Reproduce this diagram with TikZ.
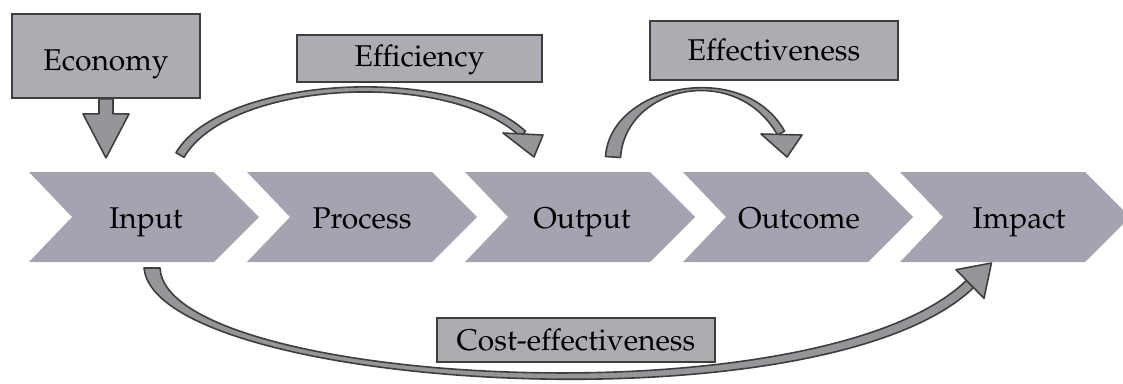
\documentclass[tikz,border=0pt]{standalone}
\usepackage[T1]{fontenc}
\usepackage{mathpazo}
\usetikzlibrary{calc}
\definecolor{chevgray}{RGB}{164,164,176}
\definecolor{boxgray}{RGB}{172,172,178}
\definecolor{arrowgray}{RGB}{150,150,154}
\definecolor{edgegray}{RGB}{62,62,62}
\begin{document}
\begin{tikzpicture}[x=1pt,y=-1pt,
  lbl/.style={font=\fontsize{30}{36}\selectfont, inner sep=0pt, text=black},
  tagbox/.style={draw=edgegray, line width=1.8pt, fill=boxgray, inner sep=0pt,
    font=\fontsize{30}{36}\selectfont},
  blockarrow/.style={fill=arrowgray, draw=edgegray, line width=1.6pt, line join=round}]
\useasboundingbox (0,0) rectangle (1123,383);
\clip (0,0) rectangle (1123,383);

% value chain: five chevrons
\newcommand\chevshape[1]{%
  \fill[chevgray] (#1,172) -- ++(185,0) -- ++(45,45) -- ++(-45,45) -- ++(-185,0) -- ++(43,-45) -- cycle;}
\chevshape{29}
\chevshape{247}
\chevshape{465}
\chevshape{683}
\chevshape{900}
\node[lbl, anchor=base] (inp)  at (146,228) {Input};
\node[lbl, anchor=base] (proc) at (362,228) {Process};
\node[lbl, anchor=base] (outp) at (582,228) {Output};
\node[lbl, anchor=base] (outc) at (799,228) {Outcome};
\node[lbl, anchor=base] (imp)  at (1019,228) {Impact};

% Economy: box with a block arrow down onto Input
\node[tagbox, minimum width=188pt, minimum height=84pt] (eco) at (106,56) {};
\path[blockarrow] ($(eco.south)+(-7,0)$) -- ++(0,15) -- ++(-16,0) -- ++(23,44)
   -- ++(23,-44) -- ++(-16,0) -- ($(eco.south)+(7,0)$) -- cycle;
\node[tagbox, minimum width=188pt, minimum height=84pt] at (eco) {};
\node[lbl, anchor=base] at (106,70) {Economy};

% Efficiency: Input -> Output
\node[tagbox, minimum width=245pt, minimum height=47pt] (effi) at (419.5,58.5) {};
\node[lbl, anchor=base] at (effi.center) [yshift=-8pt] {Efficiency};
\coordinate (a1) at (180,155);
\coordinate (b1) at (523,134);
\path[blockarrow] ($(a1)+(-4,-2.3)$) .. controls +(45,-77) and +(-73,-68) .. ($(b1)+(2.5,-2.7)$)
   -- ($(b1)+(-2.5,2.7)$) .. controls +(-73,-68) and +(45,-77) .. ($(a1)+(4,2.3)$) -- cycle;
\path[blockarrow] ($(b1)+(-20,-1)$) -- ($(b1)+(20,1)$) -- ($(b1)+(11,23)$) -- cycle;

% Effectiveness: Output -> Outcome
\node[tagbox, minimum width=248pt, minimum height=59pt] (effe) at (774,50.5) {};
\node[lbl, anchor=base] at (774,60) {Effectiveness};
\coordinate (a2) at (613,157);
\coordinate (b2) at (781,133);
\path[blockarrow] ($(a2)+(-7.5,-0.5)$) .. controls +(5,-72) and +(-41,-73) .. ($(b2)+(3.5,-2)$)
   -- ($(b2)+(-3.5,2)$) .. controls +(-41,-73) and +(5,-72) .. ($(a2)+(7.5,0.5)$) -- cycle;
\path[blockarrow] ($(b2)+(-20,1)$) -- ($(b2)+(21,2)$) -- ($(b2)+(6,24)$) -- cycle;

% Cost-effectiveness: Input -> Impact, running underneath
\coordinate (a3) at (152,268);
\coordinate (b3) at (970,284);
\path[blockarrow] ($(a3)+(-8,0)$) .. controls +(12,122) and +(-150,145) .. ($(b3)+(3.5,3.6)$)
   -- ($(b3)+(-3.5,-3.6)$) .. controls +(-148,143) and +(6,118) .. ($(a3)+(8,0)$) -- cycle;
\path[blockarrow] ($(b3)+(-14,-14.3)$) -- ($(b3)+(21.4,-21)$) -- ($(b3)+(14,14.3)$) -- cycle;
\node[tagbox, minimum width=278pt, minimum height=44pt] (cost) at (576,340) {};
\node[lbl, anchor=base] at (576,350) {Cost-effectiveness};
\end{tikzpicture}
\end{document}
